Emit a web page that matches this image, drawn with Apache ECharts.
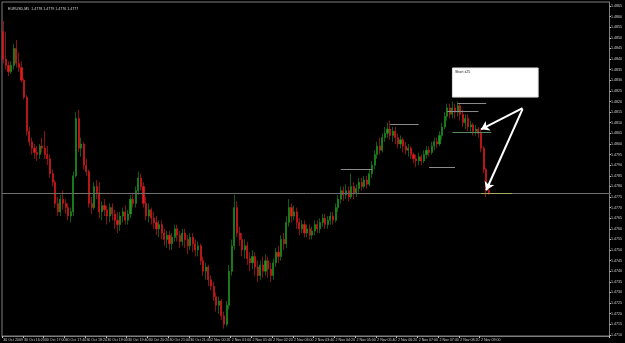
<!DOCTYPE html>
<html><head><meta charset="utf-8">
<script src="https://cdn.jsdelivr.net/npm/echarts@6/dist/echarts.min.js"></script>
<style>html,body{margin:0;padding:0;background:#000}#c{width:625px;height:343px}</style>
</head><body><div id="c"></div>
<script>
// Session layout of the M5 bars (30 Oct afternoon, then 2 Nov)
const sessions = [
  {date: '30 Oct', startMin: 15*60+40, bars: 76},
  {date: '2 Nov', startMin: 0, bars: 112}
];
const emptyBarsRight = 46;
const titleText = 'EURUSD,M5  1.4778 1.4779 1.4776 1.4777';
const noteText = 'Short x25';
const bidPrice = 1.4777;
// y-axis tick labels
const priceTicks = [1.4865,1.4860,1.4855,1.4850,1.4845,1.4840,1.4835,1.4830,1.4825,1.4820,1.4815,1.4810,1.4805,1.4800,1.4795,1.4790,1.4785,1.4780,1.4775,1.4770,1.4765,1.4760,1.4755,1.4750,1.4745,1.4740,1.4735,1.4730,1.4725,1.4720,1.4715,1.4710];
// OHLC rows: [open, close, low, high]
const ohlc = [
[1.4853,1.4840,1.4838,1.4858],[1.4840,1.4837,1.4835,1.4853],[1.4837,1.4834,1.4832,1.4839],[1.4834,1.4837,1.4833,1.4839],
[1.4837,1.4845,1.4835,1.4847],[1.4845,1.4838,1.4836,1.4849],[1.4838,1.4836,1.4834,1.4843],[1.4836,1.4830,1.4829,1.4839],
[1.4830,1.4822,1.4821,1.4831],[1.4822,1.4806,1.4804,1.4823],[1.4806,1.4801,1.4799,1.4808],[1.4801,1.4798,1.4795,1.4803],
[1.4798,1.4796,1.4793,1.4800],[1.4796,1.4795,1.4792,1.4799],[1.4795,1.4799,1.4793,1.4800],[1.4799,1.4798,1.4796,1.4803],
[1.4798,1.4795,1.4793,1.4806],[1.4795,1.4793,1.4790,1.4799],[1.4793,1.4786,1.4784,1.4795],[1.4786,1.4782,1.4780,1.4788],
[1.4782,1.4772,1.4770,1.4783],[1.4772,1.4768,1.4766,1.4775],[1.4768,1.4774,1.4766,1.4776],[1.4774,1.4772,1.4769,1.4778],
[1.4772,1.4770,1.4767,1.4774],[1.4770,1.4766,1.4764,1.4772],[1.4766,1.4768,1.4763,1.4770],[1.4768,1.4785,1.4766,1.4787],
[1.4785,1.4812,1.4784,1.4815],[1.4812,1.4798,1.4796,1.4816],[1.4798,1.4800,1.4794,1.4803],[1.4800,1.4790,1.4788,1.4801],
[1.4790,1.4787,1.4785,1.4793],[1.4787,1.4772,1.4770,1.4788],[1.4772,1.4770,1.4767,1.4775],[1.4770,1.4780,1.4769,1.4782],
[1.4780,1.4777,1.4774,1.4783],[1.4777,1.4768,1.4765,1.4782],[1.4768,1.4771,1.4764,1.4773],[1.4771,1.4769,1.4766,1.4774],
[1.4769,1.4766,1.4762,1.4771],[1.4766,1.4770,1.4763,1.4772],[1.4770,1.4767,1.4764,1.4772],[1.4767,1.4764,1.4760,1.4769],
[1.4764,1.4762,1.4758,1.4768],[1.4762,1.4766,1.4759,1.4768],[1.4766,1.4768,1.4763,1.4770],[1.4768,1.4764,1.4762,1.4771],
[1.4764,1.4767,1.4762,1.4769],[1.4767,1.4774,1.4765,1.4776],[1.4774,1.4772,1.4770,1.4777],[1.4772,1.4778,1.4770,1.4780],
[1.4778,1.4784,1.4776,1.4787],[1.4784,1.4780,1.4778,1.4786],[1.4780,1.4772,1.4770,1.4782],[1.4772,1.4766,1.4764,1.4775],
[1.4766,1.4769,1.4763,1.4772],[1.4769,1.4765,1.4762,1.4770],[1.4765,1.4763,1.4760,1.4768],[1.4763,1.4760,1.4757,1.4766],
[1.4760,1.4762,1.4756,1.4764],[1.4762,1.4758,1.4755,1.4764],[1.4758,1.4755,1.4752,1.4760],[1.4755,1.4757,1.4751,1.4759],
[1.4757,1.4753,1.4750,1.4759],[1.4753,1.4756,1.4750,1.4758],[1.4756,1.4760,1.4754,1.4762],[1.4760,1.4757,1.4754,1.4762],
[1.4757,1.4754,1.4751,1.4759],[1.4754,1.4758,1.4752,1.4760],[1.4758,1.4755,1.4751,1.4760],[1.4755,1.4752,1.4748,1.4757],
[1.4752,1.4756,1.4750,1.4758],[1.4756,1.4753,1.4749,1.4758],[1.4753,1.4750,1.4747,1.4755],[1.4750,1.4752,1.4747,1.4754],
[1.4752,1.4745,1.4743,1.4753],[1.4745,1.4740,1.4738,1.4747],[1.4740,1.4742,1.4736,1.4744],[1.4742,1.4736,1.4733,1.4743],
[1.4736,1.4733,1.4731,1.4738],[1.4733,1.4728,1.4726,1.4735],[1.4728,1.4724,1.4721,1.4730],[1.4724,1.4726,1.4720,1.4728],
[1.4726,1.4719,1.4717,1.4727],[1.4719,1.4715,1.4713,1.4721],[1.4715,1.4724,1.4714,1.4726],[1.4724,1.4740,1.4722,1.4743],
[1.4740,1.4752,1.4738,1.4755],[1.4752,1.4770,1.4750,1.4776],[1.4770,1.4758,1.4756,1.4773],[1.4758,1.4755,1.4752,1.4761],
[1.4755,1.4750,1.4747,1.4758],[1.4750,1.4752,1.4746,1.4755],[1.4752,1.4746,1.4743,1.4754],[1.4746,1.4744,1.4740,1.4749],
[1.4744,1.4747,1.4741,1.4750],[1.4747,1.4742,1.4738,1.4749],[1.4742,1.4738,1.4735,1.4745],[1.4738,1.4743,1.4736,1.4745],
[1.4743,1.4740,1.4737,1.4747],[1.4740,1.4745,1.4738,1.4748],[1.4745,1.4741,1.4737,1.4747],[1.4741,1.4738,1.4735,1.4744],
[1.4738,1.4744,1.4736,1.4746],[1.4744,1.4749,1.4742,1.4751],[1.4749,1.4747,1.4744,1.4752],[1.4747,1.4755,1.4745,1.4757],
[1.4755,1.4753,1.4750,1.4758],[1.4753,1.4763,1.4751,1.4766],[1.4763,1.4770,1.4761,1.4774],[1.4770,1.4766,1.4763,1.4772],
[1.4766,1.4768,1.4764,1.4771],[1.4768,1.4763,1.4760,1.4770],[1.4763,1.4760,1.4757,1.4765],[1.4760,1.4762,1.4758,1.4764],
[1.4762,1.4758,1.4756,1.4764],[1.4758,1.4760,1.4756,1.4762],[1.4760,1.4757,1.4755,1.4762],[1.4757,1.4759,1.4755,1.4761],
[1.4759,1.4762,1.4757,1.4764],[1.4762,1.4760,1.4758,1.4764],[1.4760,1.4763,1.4758,1.4765],[1.4763,1.4765,1.4761,1.4767],
[1.4765,1.4762,1.4760,1.4767],[1.4762,1.4764,1.4760,1.4766],[1.4764,1.4766,1.4762,1.4768],[1.4766,1.4764,1.4762,1.4768],
[1.4764,1.4770,1.4763,1.4772],[1.4770,1.4774,1.4768,1.4776],[1.4774,1.4778,1.4772,1.4780],[1.4778,1.4776,1.4773,1.4780],
[1.4776,1.4778,1.4774,1.4781],[1.4778,1.4775,1.4773,1.4780],[1.4775,1.4780,1.4774,1.4786],[1.4780,1.4777,1.4774,1.4782],
[1.4777,1.4779,1.4775,1.4781],[1.4779,1.4782,1.4777,1.4784],[1.4782,1.4780,1.4778,1.4784],[1.4780,1.4783,1.4779,1.4785],
[1.4783,1.4781,1.4779,1.4785],[1.4781,1.4786,1.4780,1.4788],[1.4786,1.4790,1.4784,1.4792],[1.4790,1.4795,1.4788,1.4797],
[1.4795,1.4799,1.4793,1.4801],[1.4799,1.4797,1.4795,1.4803],[1.4797,1.4803,1.4796,1.4805],[1.4803,1.4805,1.4801,1.4808],
[1.4805,1.4807,1.4803,1.4810],[1.4807,1.4804,1.4802,1.4811],[1.4804,1.4806,1.4801,1.4808],[1.4806,1.4803,1.4800,1.4808],
[1.4803,1.4800,1.4798,1.4805],[1.4800,1.4802,1.4798,1.4804],[1.4802,1.4799,1.4796,1.4803],[1.4799,1.4797,1.4795,1.4801],
[1.4797,1.4798,1.4794,1.4800],[1.4798,1.4795,1.4793,1.4799],[1.4795,1.4793,1.4791,1.4796],[1.4793,1.4792,1.4789,1.4795],
[1.4792,1.4794,1.4790,1.4796],[1.4794,1.4792,1.4790,1.4795],[1.4792,1.4795,1.4791,1.4797],[1.4795,1.4797,1.4793,1.4799],
[1.4797,1.4796,1.4794,1.4799],[1.4796,1.4799,1.4795,1.4801],[1.4799,1.4801,1.4797,1.4803],[1.4801,1.4800,1.4798,1.4803],
[1.4800,1.4804,1.4799,1.4806],[1.4804,1.4808,1.4802,1.4810],[1.4808,1.4813,1.4807,1.4815],[1.4813,1.4817,1.4811,1.4819],
[1.4817,1.4814,1.4812,1.4819],[1.4814,1.4817,1.4812,1.4820],[1.4817,1.4815,1.4812,1.4819],[1.4815,1.4818,1.4813,1.4820],
[1.4818,1.4814,1.4811,1.4819],[1.4814,1.4810,1.4808,1.4816],[1.4810,1.4812,1.4807,1.4814],[1.4812,1.4808,1.4806,1.4814],
[1.4808,1.4809,1.4805,1.4811],[1.4809,1.4806,1.4804,1.4810],[1.4806,1.4807,1.4804,1.4809],[1.4807,1.4805,1.4803,1.4808],
[1.4805,1.4798,1.4796,1.4807],[1.4798,1.4788,1.4786,1.4799],[1.4788,1.4778,1.4775,1.4789],[1.4778,1.4777,1.4776,1.4779]
];
// Drawn level lines: [fromBar, toBar, price]
const levelLines = [
  [175, 186, 1.48192],
  [171, 183, 1.48154],
  [173, 188, 1.48055],
  [164, 174, 1.47890],
  [184, 196, 1.47767],
  [149, 160, 1.48093],
  [130, 142, 1.47881]
];
// Arrows: [fromBar, fromPrice, toBar, toPrice]
const arrows = [
  [200, 1.48169, 184, 1.48069],
  [200, 1.48164, 186, 1.47782]
];
// Note box: [fromBar, topPrice, toBar, bottomPrice]
const noteBox = [173, 1.48358, 206, 1.48221];

function pad(n){return (n<10?'0':'')+n;}
const categories = [];
sessions.forEach(s => {
  for (let i = 0; i < s.bars; i++) {
    const m = s.startMin + 5*i;
    categories.push(s.date + ' ' + pad(Math.floor(m/60)) + ':' + pad(m%60));
  }
});
const nData = categories.length;
for (let i = 0; i < emptyBarsRight; i++) categories.push('');
const lastBar = categories.length - 1;

const chart = echarts.init(document.getElementById('c'), null, {renderer:'canvas'});
const gray = '#7f7f7f';
const lineData = levelLines.map(l => [
  {coord:[l[0], l[2]]}, {coord:[l[1], l[2]]}
]);
const lineStyles = ['#8a8a8a','#8a8a8a','#5a8a5a','#8a8a8a','#a8a860','#8a8a8a','#8a8a8a'];
lineData.forEach((d,i)=>{ d[0].lineStyle = {color: lineStyles[i], width: 1, type:'solid'}; });
const arrowData = arrows.map(a => [
  {coord:[a[0], a[1]], symbol:'none'}, {coord:[a[2], a[3]], symbol:'arrow', symbolSize: 8}
]);

chart.setOption({
  backgroundColor: '#000000',
  animation: false,
  title: {
    text: titleText, left: 3, top: 2,
    textStyle: {color: '#d8d8d8', fontSize: 3.6, fontWeight: 'normal', fontFamily: 'Liberation Sans'}
  },
  grid: {left: 2, right: 14, top: 2, bottom: 7, show: true, borderColor: gray, borderWidth: 1, backgroundColor: '#000'},
  xAxis: {
    type: 'category', data: categories, boundaryGap: true,
    axisLine: {show: true, lineStyle: {color: gray}},
    axisTick: {show: true, length: 2, lineStyle: {color: '#bbbbbb'},
      interval: (i) => i % 8 === 0 && i < nData},
    splitLine: {show: false},
    axisLabel: {
      color: '#cfcfcf', fontSize: 3.6, margin: 2, align: 'left', fontFamily: 'Liberation Sans',
      interval: (i) => i % 8 === 0 && i < nData,
      formatter: (v, i) => i === 0 ? '30 Oct 2009' : v
    }
  },
  yAxis: {
    type: 'value', position: 'right', min: 1.47095, max: 1.48669, scale: true,
    axisLine: {show: true, lineStyle: {color: gray}},
    axisTick: {show: true, length: 1.5, customValues: priceTicks, lineStyle: {color: '#bbbbbb'}},
    splitLine: {show: false},
    axisLabel: {
      color: '#cfcfcf', fontSize: 3.6, margin: 1.5, fontFamily: 'Liberation Sans',
      customValues: priceTicks, formatter: v => v.toFixed(4)
    }
  },
  series: [{
    type: 'line', data: [], silent: true, z: 1,
    markLine: {
      silent: true, symbol: 'none', animation: false, label: {show: false},
      data: [[
        {coord: [0, bidPrice], x: 2, lineStyle: {color: '#6e6e6e', width: 1, type: 'solid'}},
        {coord: [lastBar, bidPrice], x: 611}
      ]]
    }
  }, {
    type: 'candlestick',
    data: ohlc, z: 2,
    barWidth: 1.6,
    itemStyle: {color: '#1f9a1f', color0: '#e41c1c', borderColor: '#1f9a1f', borderColor0: '#e41c1c', borderWidth: 0.6},
    markLine: {
      silent: true, symbol: 'none', animation: false,
      label: {show: false},
      data: lineData
    },
    markArea: {
      silent: true,
      itemStyle: {color: '#ffffff', borderColor: '#e0e0e0', borderWidth: 1},
      label: {show: true, position: 'insideTopLeft', color: '#222', fontSize: 3.6, distance: 3, fontFamily: 'Liberation Sans'},
      data: [[{name: noteText, coord: [noteBox[0], noteBox[1]]}, {coord: [noteBox[2], noteBox[3]]}]]
    }
  }, {
    type: 'line', data: [], silent: true, z: 3,
    markLine: {
      silent: true, animation: false, label: {show: false},
      lineStyle: {color: '#ffffff', width: 2, type: 'solid'},
      data: arrowData
    }
  }]
});
</script></body></html>
